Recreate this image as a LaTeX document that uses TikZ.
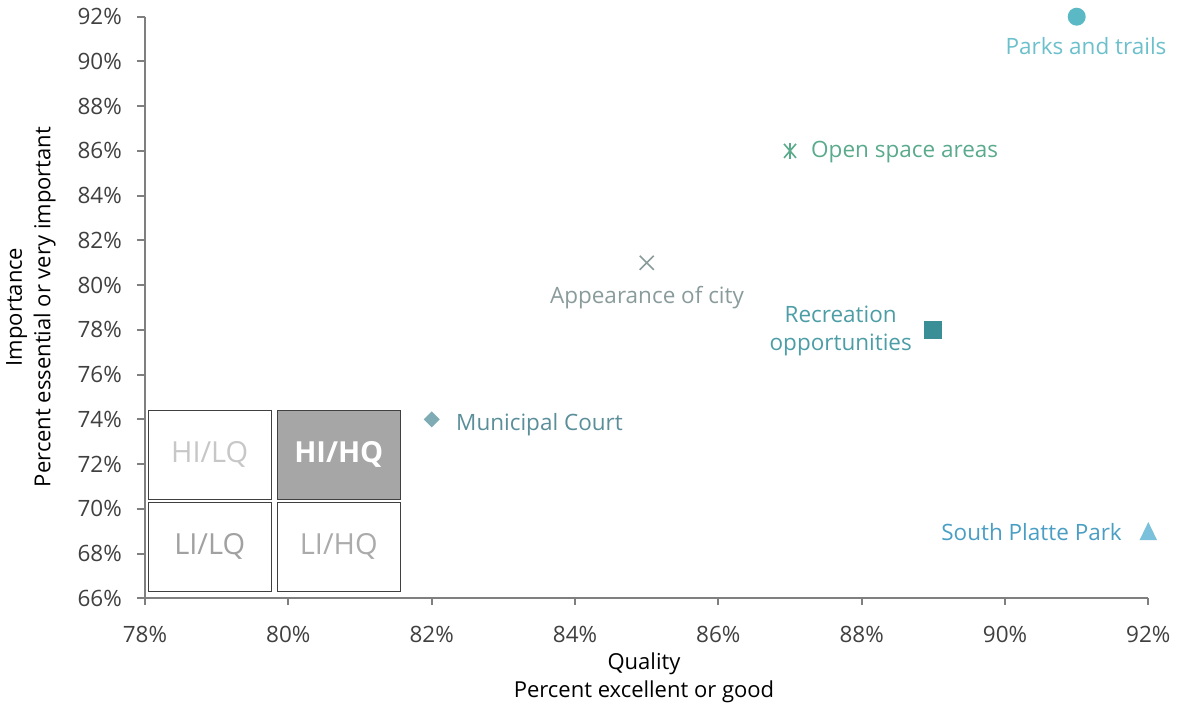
\documentclass[tikz,border=0pt]{standalone}
\usepackage{fontspec}
\setmainfont{Open Sans}
\definecolor{axisgray}{HTML}{7F7F7F}
\definecolor{ticktext}{HTML}{404040}
\definecolor{parkscol}{HTML}{5BB9C5}
\definecolor{parkstext}{HTML}{6CC0CB}
\definecolor{opencol}{HTML}{5AAA8C}
\definecolor{appcol}{HTML}{8A9B9B}
\definecolor{recmark}{HTML}{3A8E96}
\definecolor{rectext}{HTML}{4C9DA6}
\definecolor{munmark}{HTML}{7FACB4}
\definecolor{muntext}{HTML}{5A8E99}
\definecolor{sptext}{HTML}{4A9EC4}
\definecolor{spmark}{HTML}{7CC1DB}
\definecolor{boxfill}{HTML}{A6A6A6}
\definecolor{boxline}{HTML}{404040}
\begin{document}
\begin{tikzpicture}[x=1pt,y=-1pt,
  ticklab/.style={font=\fontsize{22.5}{26}\selectfont, text=ticktext, inner sep=0pt},
  axtitle/.style={font=\fontsize{22}{28.5}\selectfont, text=black, inner sep=0pt, align=center},
  datalab/.style={font=\fontsize{22.5}{28.5}\selectfont, inner sep=0pt, align=center},
  quadbox/.style={draw=boxline, line width=1pt, minimum width=123pt, minimum height=89pt, inner sep=0pt, font=\fontsize{29}{32}\selectfont}
]
\useasboundingbox (0,0) rectangle (1177,708);
% axes
\coordinate (o) at (145,598.3);
\coordinate (xe) at (1148.3,598.3);
\coordinate (ye) at (145,16.7);
\draw[axisgray, line width=2pt] (ye) -- (o) -- (xe);
% y ticks
\foreach \v [count=\i from 0] in {66,68,70,72,74,76,78,80,82,84,86,88,90,92} {
  \pgfmathsetmacro{\yy}{598.3-\i*2*22.369}
  \draw[axisgray, line width=2pt] (137,\yy) -- (145,\yy);
  \node[ticklab, anchor=east] (yt\i) at (122,\yy) {\v\%};
}
% x ticks
\foreach \v [count=\i from 0] in {78,80,82,84,86,88,90,92} {
  \pgfmathsetmacro{\xx}{145+\i*2*71.667}
  \draw[axisgray, line width=2pt] (\xx,598.3) -- (\xx,605);
  \node[ticklab, anchor=center] (xt\i) at (\xx,634) {\v\%};
}
% axis titles
\node[axtitle] (xtitle) at (644,678) {Quality\\Percent excellent or good};
\node[axtitle, rotate=90] (ytitle) at (31,307) {Importance\\Percent essential or very important};
% quadrant boxes
\node[quadbox, fill=white, text=black!22] (hilq) at (209.7,454.5) {HI/LQ};
\node[quadbox, fill=boxfill, text=white, font=\fontsize{29}{32}\selectfont\bfseries] (hihq) at (338.8,454.5) {HI/HQ};
\node[quadbox, fill=white, text=black!37] (lilq) at (209.7,546.7) {LI/LQ};
\node[quadbox, fill=white, text=black!33] (lihq) at (338.8,546.7) {LI/HQ};
% data points
\fill[parkscol] (1076.7,16.7) circle (9);
\node[datalab, text=parkstext, anchor=north] (parks) at (1086,37) {Parks and trails};
% open space: asterisk
\begin{scope}[shift={(790,150.9)}, draw=opencol, line width=1.6pt]
  \draw (-6,-7) -- (6,7); \draw (-6,7) -- (6,-7); \draw (0,-8) -- (0,8);
\end{scope}
\node[datalab, text=opencol, anchor=west] (open) at (811,152) {Open space areas};
% appearance: x
\begin{scope}[shift={(646.7,262.8)}]
  \draw[appcol, line width=1.6pt] (-7,-7) -- (7,7) (-7,7) -- (7,-7);
\end{scope}
\node[datalab, text=appcol, anchor=center] (app) at (647,298) {Appearance of city};
% recreation: square
\fill[recmark] (924.3,320.9) rectangle (942.3,338.9);
\node[datalab, text=rectext, anchor=east] (rec) at (912,331) {Recreation\\opportunities};
% municipal: diamond
\fill[munmark] (431.7,411.4) -- (439.7,419.4) -- (431.7,427.4) -- (423.7,419.4) -- cycle;
\node[datalab, text=muntext, anchor=west] (mun) at (456,425) {Municipal Court};
% south platte: triangle
\fill[spmark] (1148.3,522) -- (1157,540) -- (1139.6,540) -- cycle;
\node[datalab, text=sptext, anchor=east] (sp) at (1122,532) {South Platte Park};
\end{tikzpicture}
\end{document}
